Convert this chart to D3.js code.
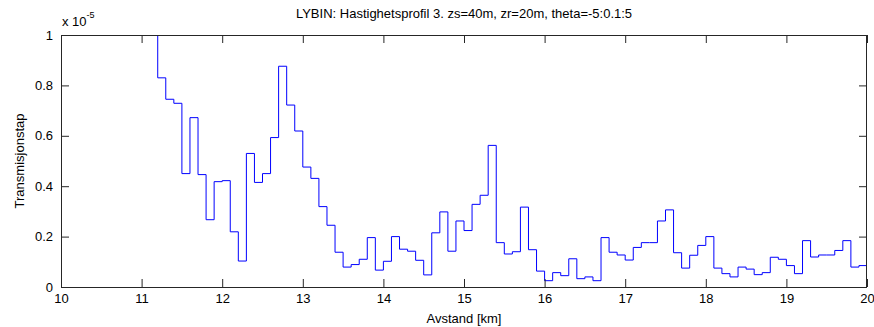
<!DOCTYPE html>
<html>
<head>
<meta charset="utf-8">
<script src="https://cdn.jsdelivr.net/npm/d3@7"></script>
<style>
  html, body { margin: 0; padding: 0; background: #fff; }
  svg { display: block; font-family: "Liberation Sans", Arial, sans-serif; }
</style>
</head>
<body>
<svg id="chart" width="874" height="327"></svg>
<script>
// ---- data (transmission loss, units of 1e-5) ----
const titleText = "LYBIN: Hastighetsprofil 3. zs=40m, zr=20m, theta=-5:0.1:5";
const xLabel = "Avstand [km]";
const yLabel = "Transmisjonstap";
const xTicks = [10, 11, 12, 13, 14, 15, 16, 17, 18, 19, 20];
const yTicks = [0, 0.2, 0.4, 0.6, 0.8, 1];
const yTickLabels = ["0", "0.2", "0.4", "0.6", "0.8", "1"];
const binStart = 11.1;      // first range bin (km)
const binWidth = 0.1;       // bin width (km)
const rangeEnd = 20;
// values per 0.1 km bin starting at 11.1 km (first bin exceeds the axis and is clipped)
const lossValues = [
  1.2,
  0.83, 0.745, 0.729, 0.45, 0.672, 0.446, 0.267, 0.418,
  0.422, 0.219, 0.103, 0.53, 0.415, 0.45, 0.593, 0.876, 0.722, 0.619,
  0.476, 0.431, 0.319, 0.245, 0.138, 0.079, 0.089, 0.11, 0.196, 0.067,
  0.102, 0.2, 0.15, 0.142, 0.106, 0.048, 0.215, 0.298, 0.142, 0.262,
  0.224, 0.328, 0.364, 0.562, 0.176, 0.131, 0.14, 0.317, 0.148, 0.063,
  0.025, 0.057, 0.045, 0.112, 0.033, 0.04, 0.025, 0.196, 0.138, 0.127,
  0.107, 0.157, 0.176, 0.176, 0.262, 0.306, 0.136, 0.075, 0.126, 0.165,
  0.2, 0.075, 0.053, 0.04, 0.079, 0.071, 0.049, 0.057, 0.118, 0.11,
  0.085, 0.053, 0.184, 0.119, 0.127, 0.127, 0.145, 0.184, 0.079, 0.085
];

// ---- layout ----
const W = 874, H = 327;
const m = { left: 61, top: 35, right: 7, bottom: 40 };
const iw = W - m.left - m.right, ih = H - m.top - m.bottom;
const tick = 8;
const axisColor = "#262626";

const svg = d3.select("#chart");
const x = d3.scaleLinear().domain([10, 20]).range([m.left, m.left + iw]);
const y = d3.scaleLinear().domain([0, 1]).range([m.top + ih, m.top]);

svg.append("defs").append("clipPath").attr("id", "clip")
  .append("rect").attr("x", m.left).attr("y", m.top).attr("width", iw).attr("height", ih);

// data points for step drawing
const pts = lossValues.map((v, i) => [+(binStart + i * binWidth).toFixed(2), v]);
pts.push([rangeEnd, lossValues[lossValues.length - 1]]);

const line = d3.line().x(d => x(d[0])).y(d => y(d[1])).curve(d3.curveStepAfter);
svg.append("path").attr("clip-path", "url(#clip)")
  .attr("d", line(pts))
  .attr("fill", "none").attr("stroke", "#0000ff").attr("stroke-width", 1);

// axes
function styleAxis(g) {
  g.select(".domain").remove();
  g.selectAll(".tick line").attr("stroke", axisColor);
  g.selectAll(".tick text").attr("fill", "#000").style("font-size", "13px")
    .style("font-family", '"Liberation Sans", Arial, sans-serif');
}
svg.append("g").attr("transform", `translate(0,${m.top + ih})`)
  .call(d3.axisBottom(x).tickValues(xTicks).tickFormat(d3.format("d")).tickSize(-tick).tickPadding(7))
  .call(styleAxis);
svg.append("g").attr("transform", `translate(0,${m.top})`)
  .call(d3.axisTop(x).tickValues(xTicks).tickFormat("").tickSize(-tick))
  .call(styleAxis);
svg.append("g").attr("transform", `translate(${m.left},0)`)
  .call(d3.axisLeft(y).tickValues(yTicks).tickFormat((d, i) => yTickLabels[i]).tickSize(-tick).tickPadding(8))
  .call(styleAxis);
svg.append("g").attr("transform", `translate(${m.left + iw},0)`)
  .call(d3.axisRight(y).tickValues(yTicks).tickFormat("").tickSize(-tick))
  .call(styleAxis);

// box
svg.append("rect").attr("x", m.left + 0.5).attr("y", m.top + 0.5)
  .attr("width", iw - 1).attr("height", ih)
  .attr("fill", "none").attr("stroke", axisColor).attr("stroke-width", 1);

// exponent
const ex = svg.append("text").attr("x", 62).attr("y", 26).style("font-size", "13px").attr("fill", "#000");
ex.append("tspan").text("x 10");
ex.append("tspan").attr("dy", -8).style("font-size", "9px").text("-5");

// title
svg.append("text").attr("x", m.left + iw / 2).attr("y", 18).attr("text-anchor", "middle")
  .style("font-size", "13px").attr("fill", "#000").text(titleText);
// x label
svg.append("text").attr("x", m.left + iw / 2).attr("y", 323).attr("text-anchor", "middle")
  .style("font-size", "13px").attr("fill", "#000").text(xLabel);
// y label
svg.append("text").attr("transform", `translate(24,${m.top + ih / 2}) rotate(-90)`).attr("text-anchor", "middle")
  .style("font-size", "13px").attr("fill", "#000").text(yLabel);
</script>
</body>
</html>
